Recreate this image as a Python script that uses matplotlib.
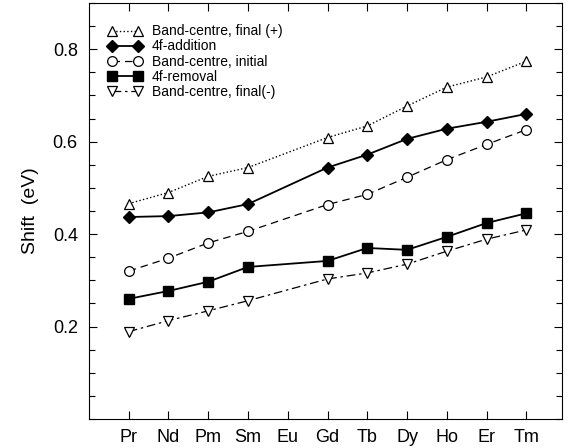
import numpy as np
import matplotlib
matplotlib.use('Agg')
import matplotlib.pyplot as plt
from matplotlib.ticker import MultipleLocator

plt.rcParams['font.family'] = ['Liberation Sans', 'DejaVu Sans']

# Данные (Eu отсутствует)
elements = ['Pr', 'Nd', 'Pm', 'Sm', 'Eu', 'Gd', 'Tb', 'Dy', 'Ho', 'Er', 'Tm']
measured = ['Pr', 'Nd', 'Pm', 'Sm', 'Gd', 'Tb', 'Dy', 'Ho', 'Er', 'Tm']

band_final_plus = [0.466, 0.490, 0.525, 0.544, 0.609, 0.634, 0.677, 0.718, 0.740, 0.774]
f4_addition = [0.437, 0.439, 0.447, 0.465, 0.544, 0.572, 0.606, 0.628, 0.643, 0.660]
band_initial = [0.320, 0.348, 0.381, 0.406, 0.464, 0.486, 0.523, 0.561, 0.594, 0.626]
f4_removal = [0.260, 0.277, 0.297, 0.329, 0.342, 0.370, 0.366, 0.394, 0.424, 0.445]
band_final_minus = [0.189, 0.213, 0.234, 0.256, 0.303, 0.316, 0.335, 0.363, 0.389, 0.409]

x = np.array([elements.index(e) + 1 for e in measured])

fig = plt.figure(figsize=(5.7, 4.48), dpi=100)
ax = fig.add_axes([0.1561, 0.0647, 0.83, 0.9286])

ax.plot(x, band_final_plus, color='black', linestyle=':', linewidth=1,
        marker='^', markersize=7, markerfacecolor='white', markeredgewidth=0.9,
        label='Band-centre, final (+)')
ax.plot(x, f4_addition, color='black', linestyle='-', linewidth=1.3,
        marker='D', markersize=6.5, markerfacecolor='black',
        label='4f-addition')
ax.plot(x, band_initial, color='black', linestyle=(0, (6, 4)), linewidth=0.9,
        marker='o', markersize=7, markerfacecolor='white', markeredgewidth=0.9,
        label='Band-centre, initial')
ax.plot(x, f4_removal, color='black', linestyle='-', linewidth=1.3,
        marker='s', markersize=6.5, markerfacecolor='black',
        label='4f-removal')
ax.plot(x, band_final_minus, color='black', linestyle=(0, (7, 3, 2, 3)), linewidth=0.9,
        marker='v', markersize=7, markerfacecolor='white', markeredgewidth=0.9,
        label='Band-centre, final(-)')

ax.set_xlim(0, 11.9)
ax.set_ylim(0, 0.9)
ax.set_xticks(np.arange(1, len(elements) + 1))
ax.set_xticklabels(elements)
ax.yaxis.set_major_locator(MultipleLocator(0.2))
ax.yaxis.set_minor_locator(MultipleLocator(0.05))
ax.set_yticks([0.2, 0.4, 0.6, 0.8])
ax.tick_params(which='both', direction='in', top=True, right=True, labelsize=13)
ax.tick_params(which='major', length=6, width=0.8)
ax.tick_params(which='minor', length=4, width=0.8)
ax.tick_params(axis='x', pad=7)
ax.tick_params(axis='y', pad=8)
ax.set_ylabel('Shift  (eV)', fontsize=14, labelpad=10)

leg = ax.legend(loc='upper left', bbox_to_anchor=(0.011, 0.982), frameon=False,
                fontsize=10, numpoints=2, handlelength=2.45, handletextpad=0.7,
                labelspacing=0.08, borderaxespad=0.6)

fig.savefig('out.png', dpi=100)
